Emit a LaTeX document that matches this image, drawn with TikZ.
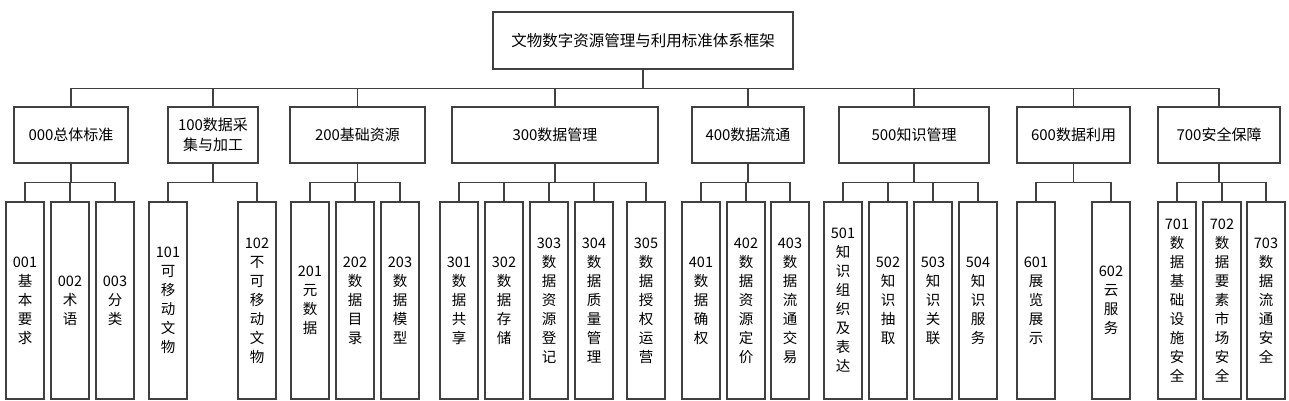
\documentclass[tikz,border=0pt]{standalone}
\usepackage{fontspec}
\newfontfamily\cjk{Noto Sans CJK SC}

\tikzset{
  box/.style={draw=black!75, line width=1.1pt, fill=white, align=center, inner sep=0pt},
  toplbl/.style={box, minimum width=300pt, minimum height=57pt, font=\cjk\fontsize{15.5}{19}\selectfont},
  catbox/.style={box, minimum height=56pt, font=\cjk\fontsize{15}{20}\selectfont},
  leafbox/.style={box, minimum width=38pt, minimum height=197pt, font=\cjk\fontsize{14.5}{19}\selectfont},
  link/.style={draw=black!75, line width=1.1pt}
}

\begin{document}
\begin{tikzpicture}[x=1pt, y=-1pt]
    \useasboundingbox (0,0) rectangle (1289,401);

    % Root
    \node[toplbl] (root) at (643,40.5) {文物数字资源管理与利用标准体系框架};

    % Categories
    \foreach \nm/\cx/\w/\txt in {000/71/114/{000总体标准}, 100/213/90/{100数据采\\集与加工},
        200/357.5/135/{200基础资源}, 300/555/206/{300数据管理}, 400/748/112/{400数据流通},
        500/914/150/{500知识管理}, 600/1073.5/113/{600数据利用}, 700/1219/122/{700安全保障}} {
        \node[catbox, minimum width=\w pt] (c\nm) at (\cx,135) {\txt};
        \draw[link] (root.south) -- ++(0,19) -| (c\nm.north);
    }

    % Leaves
    \foreach \nm/\cx/\up/\txt in {
        001/25/000/{001\\基\\本\\要\\求}, 002/70/000/{002\\术\\语}, 003/115/000/{003\\分\\类},
        101/168/100/{101\\可\\移\\动\\文\\物}, 102/257/100/{102\\不\\可\\移\\动\\文\\物},
        201/310/200/{201\\元\\数\\据}, 202/355/200/{202\\数\\据\\目\\录}, 203/400/200/{203\\数\\据\\模\\型},
        301/459/300/{301\\数\\据\\共\\享}, 302/504/300/{302\\数\\据\\存\\储},
        303/549/300/{303\\数\\据\\资\\源\\登\\记}, 304/594/300/{304\\数\\据\\质\\量\\管\\理},
        305/646/300/{305\\数\\据\\授\\权\\运\\营},
        401/701/400/{401\\数\\据\\确\\权}, 402/746/400/{402\\数\\据\\资\\源\\定\\价},
        403/790/400/{403\\数\\据\\流\\通\\交\\易},
        501/843/500/{501\\知\\识\\组\\织\\及\\表\\达}, 502/888/500/{502\\知\\识\\抽\\取},
        503/933/500/{503\\知\\识\\关\\联}, 504/978/500/{504\\知\\识\\服\\务},
        601/1036/600/{601\\展\\览\\展\\示}, 602/1111/600/{602\\云\\服\\务},
        701/1177/700/{701\\数\\据\\基\\础\\设\\施\\安\\全}, 702/1222/700/{702\\数\\据\\要\\素\\市\\场\\安\\全},
        703/1266/700/{703\\数\\据\\流\\通\\安\\全}} {
        \node[leafbox] (l\nm) at (\cx,300.5) {\txt};
        \draw[link] (c\up.south) -- ++(0,19) -| (l\nm.north);
    }
\end{tikzpicture}
\end{document}
